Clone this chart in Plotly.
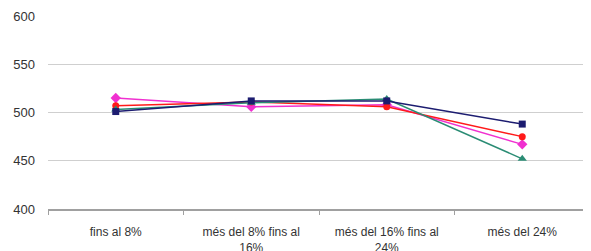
import plotly.graph_objects as go

categories = ["fins al 8%", "més del 8% fins al<br>16%", "més del 16% fins al<br>24%", "més del 24%"]
serie_navy = [501, 512, 512, 488]
serie_red = [507, 511, 506, 475]
serie_magenta = [515, 506, 508, 467]
serie_teal = [503, 510, 514, 452]
y_ticks = [400, 450, 500, 550, 600]

series = [
    (serie_magenta, "#f030d0", "diamond", 8),
    (serie_red, "#ff1a1a", "circle", 7),
    (serie_teal, "#2a8c74", "triangle-up", 8),
    (serie_navy, "#1c1c70", "square", 7),
]

fig = go.Figure()
for vals, col, sym, sz in series:
    fig.add_trace(go.Scatter(
        x=categories, y=vals, mode="lines+markers",
        line=dict(color=col, width=1.5),
        marker=dict(color=col, symbol=sym, size=sz),
        showlegend=False,
    ))

fig.update_layout(
    width=583, height=243,
    margin=dict(l=40, r=1, t=8, b=42, autoexpand=False),
    paper_bgcolor="white", plot_bgcolor="white",
    font=dict(family="Liberation Sans, Arial, sans-serif", color="#333333"),
)
fig.update_xaxes(
    type="category", tickson="boundaries", ticks="outside", ticklen=4,
    tickcolor="#a0a0a0", showline=True, linecolor="#a0a0a0", linewidth=1.5,
    showgrid=False, tickfont=dict(size=12), ticklabelstandoff=11,
    range=[-0.5, 3.5], automargin=False,
)
fig.update_yaxes(
    range=[400, 600], tickvals=y_ticks, showgrid=True, gridcolor="#cfcfcf",
    gridwidth=1, zeroline=False, showline=False, tickfont=dict(size=13),
    ticklabelstandoff=12, automargin=False,
)
fig.write_html("out.html")
